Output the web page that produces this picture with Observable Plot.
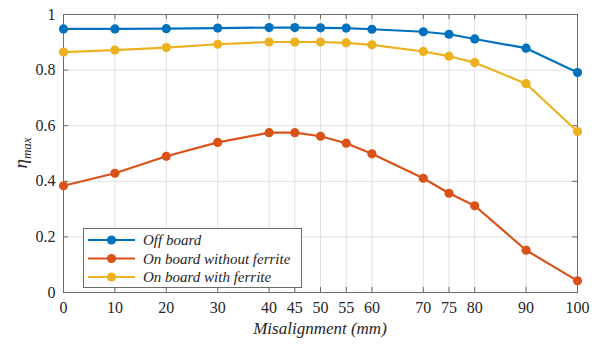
<!DOCTYPE html>
<html><head><meta charset="utf-8">
<script src="https://cdn.jsdelivr.net/npm/d3@7"></script>
<script src="https://cdn.jsdelivr.net/npm/@observablehq/plot@0.6"></script>
<style>body{margin:0;background:#fff;}</style>
</head><body><div id="chart"></div>
<script>
const misalignment = [0,10,20,30,40,45,50,55,60,70,75,80,90,100];
const xTicks = [0,10,20,30,40,45,50,55,60,70,75,80,90,100];
const yTicks = [0,0.2,0.4,0.6,0.8,1];
const seriesNames = ["Off board","On board without ferrite","On board with ferrite"];
const seriesColors = ["#0072BD","#D95319","#EDB120"];
const offBoard = [0.948,0.948,0.949,0.951,0.953,0.953,0.952,0.951,0.947,0.938,0.929,0.912,0.879,0.791];
const withoutFerrite = [0.384,0.429,0.490,0.540,0.575,0.575,0.562,0.537,0.499,0.411,0.357,0.312,0.152,0.042];
const withFerrite = [0.865,0.872,0.881,0.893,0.901,0.901,0.901,0.898,0.891,0.867,0.850,0.827,0.751,0.579];

const seriesValues = [offBoard, withoutFerrite, withFerrite];
const data = seriesValues.flatMap((vals, i) => vals.map((v, j) => ({x: misalignment[j], y: v, s: seriesNames[i]})));

const axisColor = "#6b6b6b";
const tickLenY = 5/277.6, tickLenX = 5/5.13;
const serif = "Liberation Serif";

const chart = Plot.plot({
  width: 592, height: 344,
  marginLeft: 63, marginRight: 15, marginTop: 14, marginBottom: 52,
  x: {domain: [0,100], ticks: xTicks, label: null},
  y: {domain: [0,1], ticks: yTicks, label: null},
  color: {domain: seriesNames, range: seriesColors},
  marks: [
    Plot.gridX(xTicks, {stroke: "#e0e0e0", strokeOpacity: 1}),
    Plot.gridY(yTicks, {stroke: "#e0e0e0", strokeOpacity: 1}),
    Plot.ruleX(xTicks, {y1: 0, y2: tickLenY, stroke: axisColor}),
    Plot.ruleX(xTicks, {y1: 1, y2: 1 - tickLenY, stroke: axisColor}),
    Plot.ruleY(yTicks, {x1: 0, x2: tickLenX, stroke: axisColor}),
    Plot.ruleY(yTicks, {x1: 100, x2: 100 - tickLenX, stroke: axisColor}),
    Plot.frame({stroke: axisColor}),
    Plot.axisX(xTicks, {tickSize: 0, tickPadding: 9, fontSize: 16, fontFamily: serif, fill: "#262626", tickFormat: d => String(d)}),
    Plot.axisY(yTicks, {tickSize: 0, tickPadding: 8, fontSize: 16, fontFamily: serif, fill: "#262626", tickFormat: d => d === 0 ? "0" : d === 1 ? "1" : d.toFixed(1)}),
    Plot.line(data, {x: "x", y: "y", z: "s", stroke: "s", strokeWidth: 2.2}),
    Plot.dot(data, {x: "x", y: "y", fill: "s", r: 4.6})
  ]
});
document.getElementById("chart").appendChild(chart);

const svg = d3.select(chart);
svg.attr("font-family", serif);
// x axis label
svg.append("text").attr("x", 320).attr("y", 334).attr("text-anchor", "middle").attr("font-family", serif)
  .attr("font-style", "italic").attr("font-size", 17).attr("fill", "#262626").text("Misalignment (mm)");
// y axis label η_max
const yl = svg.append("text").attr("transform", "translate(27,153) rotate(-90)").attr("text-anchor", "middle")
  .attr("font-family", serif).attr("font-style", "italic").attr("fill", "#262626");
yl.append("tspan").attr("font-size", 19).text("η");
yl.append("tspan").attr("font-size", 13).attr("dy", 4).text("max");

// legend
const lg = svg.append("g").attr("font-family", serif);
lg.append("rect").attr("x", 83.5).attr("y", 228.5).attr("width", 218).attr("height", 59)
  .attr("fill", "#fff").attr("stroke", axisColor);
seriesNames.forEach((name, i) => {
  const y = 240 + i * 18.5;
  lg.append("line").attr("x1", 88).attr("x2", 135).attr("y1", y).attr("y2", y)
    .attr("stroke", seriesColors[i]).attr("stroke-width", 2.2);
  lg.append("circle").attr("cx", 111.5).attr("cy", y).attr("r", 4.6).attr("fill", seriesColors[i]);
  lg.append("text").attr("x", 143).attr("y", y + 5).attr("text-anchor", "start").attr("font-style", "italic")
    .attr("font-family", serif).attr("font-size", 15).attr("fill", "#262626").text(name);
});
</script></body></html>
